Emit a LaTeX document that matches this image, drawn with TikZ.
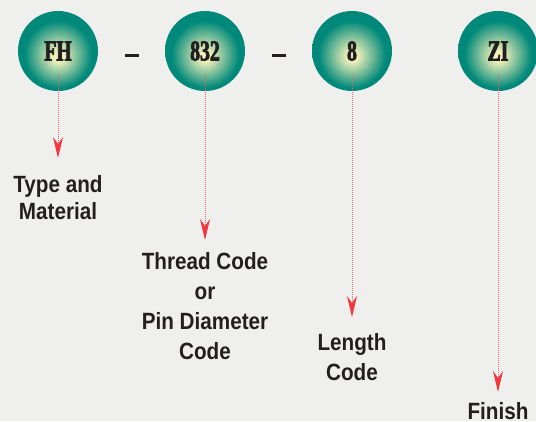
\documentclass[tikz,border=0pt]{standalone}
\usepackage{fontspec}
\setmainfont{Liberation Sans}
\newfontfamily\codefont[FakeStretch=0.68,FakeBold=2.5]{Liberation Serif}
\newfontfamily\labelfont[FakeStretch=0.88]{Liberation Sans}
\usetikzlibrary{arrows.meta}
\definecolor{paper}{HTML}{EFF0EE}
\definecolor{ink}{HTML}{231F20}
\definecolor{knobin}{HTML}{F3F1BA}
\definecolor{knobout}{HTML}{00897A}
\definecolor{dotred}{HTML}{F0606A}
\definecolor{tipred}{HTML}{F2373F}
\pgfdeclareradialshading{knob}{\pgfpoint{0bp}{-3.5bp}}{color(0bp)=(knobin); color(3bp)=(knobin); color(21bp)=(knobout); color(50bp)=(knobout)}

\begin{document}
\begin{tikzpicture}[x=1pt,y=-1pt,
  knob/.style={circle,minimum size=80pt,inner sep=0pt,shading=knob,text=ink,
    font=\codefont\bfseries\fontsize{29}{29}\selectfont},
  desc/.style={align=center,anchor=north,inner sep=0pt,text=ink,
    font=\labelfont\bfseries\fontsize{23.5}{30}\selectfont},
  pointer/.style={draw=dotred,line width=0.9pt,dash pattern=on 0.9pt off 1.1pt,
    -{Stealth[length=21pt,width=10pt,inset=7pt,color=tipred]},shorten <=23pt},
  sep/.style={ink,line width=3pt}]
  \useasboundingbox (0,0) rectangle (536,421);
  \fill[paper] (0,0) rectangle (536,421);
  % code parts
  \node[knob] (fh)  at (58,51)  {FH};
  \node[knob] (thr) at (205,51) {832};
  \node[knob] (len) at (352,51) {8};
  \node[knob] (fin) at (498,51) {ZI};
  \draw[sep] (125,55.5) -- (139,55.5);
  \draw[sep] (272,55.5) -- (286,55.5);
  % meanings
  \node[desc,font=\labelfont\bfseries\fontsize{23.5}{27.5}\selectfont] (fhtxt) at (58,175) {Type and\\Material};
  \node[desc] (thrtxt) at (205,252) {Thread Code\\or\\Pin Diameter\\Code};
  \node[desc] (lentxt) at (352,333) {Length\\Code};
  \node[desc] (fintxt) at (498,402) {Finish};
  % pointers
  \draw[pointer,shorten >=17pt] (fh.center)  -- (fhtxt.north);
  \draw[pointer,shorten >=12pt] (thr.center) -- (thrtxt.north);
  \draw[pointer,shorten >=16pt] (len.center) -- (lentxt.north);
  \draw[pointer,shorten >=10pt] (fin.center) -- (fintxt.north);
\end{tikzpicture}
\end{document}
